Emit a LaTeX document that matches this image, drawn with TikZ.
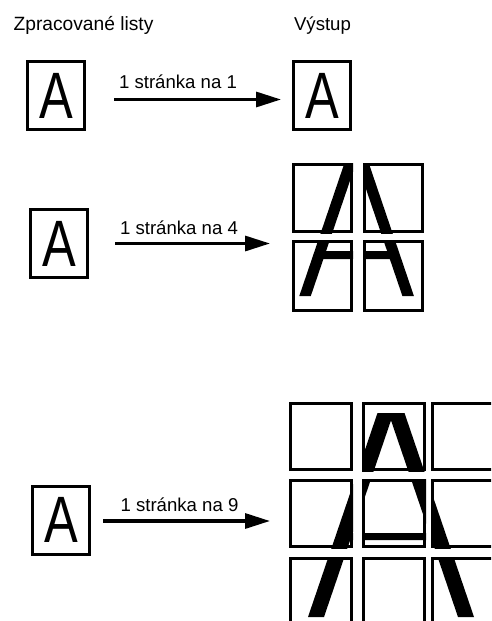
\documentclass[tikz,border=0pt]{standalone}
\usepackage{fontspec}
\setmainfont{Liberation Sans}
\usetikzlibrary{arrows.meta}
\newcommand\glyphA{\fontsize{65.6}{66}\selectfont\scalebox{0.77}[1]{A}}
\tikzset{
  sheet/.style={draw, line width=3pt, inner sep=0pt, minimum width=57pt, minimum height=68pt},
  lbl/.style={font=\fontsize{18.6}{20}\selectfont, anchor=base, inner sep=0pt},
  arr/.style={line width=3.2pt, -{Triangle[length=25pt,width=15pt]}},
  tile/.style={draw, line width=3pt},
}
\newcommand\fourA{\fill[even odd rule] (299.3,296)--(347.2,155)--(366,155)--(413.9,296)--(402.4,296)--(389.8,259)--(323.4,259)--(310.8,296)--cycle (326.1,251)--(356.6,161.3)--(387.1,251)--cycle;}
\newcommand\nineA{\fill[even odd rule] (308,617)--(377.5,413)--(404.5,413)--(474,617)--(458,617)--(431.8,540)--(350.2,540)--(324,617)--cycle (352.6,533)--(391,420.3)--(429.4,533)--cycle;}
\newcommand\tileA[5]{\begin{scope}\clip (#1,#2) rectangle (#3,#4); #5\end{scope}\draw[tile] (#1+1.5,#2+1.5) rectangle (#3-1.5,#4-1.5);}
\begin{document}
\begin{tikzpicture}[x=1pt,y=-1pt]
\useasboundingbox (0,0) rectangle (491,621);
\clip (0,0) rectangle (491,621);
% headings
\node[lbl, font=\fontsize{19.2}{20}\selectfont] (h1) at (83.5,30) {Zpracované listy};
\node[lbl] (h2) at (322.5,30) {Výstup};
% row 1
\node[sheet] (in1) at (56,95.5) {\glyphA};
\node[sheet] (out1) at (322,95.5) {\glyphA};
\coordinate (s1) at (114,99.5);
\coordinate (e1) at (281,99.5);
\draw[arr] (s1) -- (e1);
\node[lbl] (l1) at (178,88) {1 stránka na 1};
% row 2
\node[sheet] (in2) at (59,243.5) {\glyphA};
\coordinate (s2) at (115,243.5);
\coordinate (e2) at (270,243.5);
\draw[arr] (s2) -- (e2);
\node[lbl] (l2) at (179,234) {1 stránka na 4};
\foreach \xa/\xb in {292/353,363/424}
  \foreach \ya/\yb in {163/233,240/312}
    {\tileA{\xa}{\ya}{\xb}{\yb}{\fourA}}
% row 3
\node[sheet] (in3) at (61,520) {\glyphA};
\coordinate (s3) at (103,521);
\coordinate (e3) at (270,521);
\draw[arr] (s3) -- (e3);
\node[lbl] (l3) at (179.5,511) {1 stránka na 9};
\foreach \xa/\xb in {289/353,362/426,431/495}
  \foreach \ya/\yb in {402/471,479/548,557/627}
    {\tileA{\xa}{\ya}{\xb}{\yb}{\nineA}}
\end{tikzpicture}
\end{document}
